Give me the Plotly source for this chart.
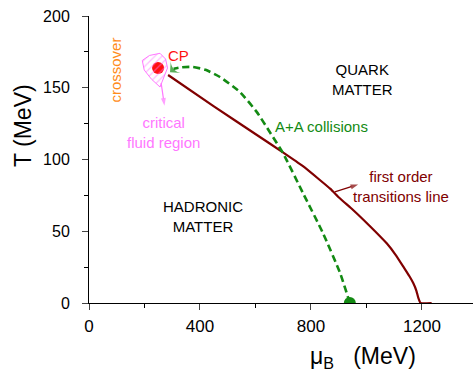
import plotly.graph_objects as go

# First-order transition line (mu_B in MeV, T in MeV)
first_order_mu = [285, 450, 616, 699, 770, 832, 870, 904, 945, 988, 1030, 1073, 1105, 1133, 1155, 1169, 1180, 1187, 1195, 1235]
first_order_T = [158.9, 137, 115.7, 105, 95.5, 85.7, 79.5, 73, 66, 58.2, 50.2, 41.6, 33.6, 25.3, 18.6, 13.7, 8.5, 3.5, 0, 0]

# A+A collisions trajectory (from freeze-out point up toward CP)
aa_mu = [940, 905, 843, 771, 699, 652, 605, 544, 472, 420, 375, 335, 305]
aa_T = [0, 20.9, 48.8, 76.7, 104.5, 119, 133, 147, 157.5, 162.5, 164.5, 164.3, 163.2]

# Critical point
cp_mu = [249]
cp_T = [163.8]

# Critical fluid region outline
region_mu = [192, 218, 256, 276, 283, 268, 256, 225, 199, 192]
region_T = [169, 172.5, 174, 170, 163.8, 156.8, 150.5, 156, 162.4, 169]

# Freeze-out point at T=0
fo_mu = [940]
fo_T = [0]

x_ticks = [0, 400, 800, 1200]
x_minor = [200, 600, 1000]
y_ticks = [0, 50, 100, 150, 200]
y_minor = [25, 75, 125, 175]

FONT = "Arial, Liberation Sans, sans-serif"
DARKRED = "#800000"
GREEN = "#138a13"
PINK = "#ff77ff"
ORANGE = "#ff8c1a"

W, H = 473, 369
ML, MR, MT, MB = 89, 0, 16, 66
pw, ph = W - ML - MR, H - MT - MB


def px_to_paper(px, py):
    return (px - ML) / pw, (H - MB - py) / ph


fig = go.Figure()

fig.add_trace(go.Scatter(x=cp_mu, y=cp_T, mode="markers",
                         marker=dict(color="#ff1010", size=12), showlegend=False))
fig.add_trace(go.Scatter(x=region_mu, y=region_T, mode="lines", fill="toself",
                         line=dict(color=PINK, width=1),
                         fillcolor="rgba(0,0,0,0)",
                         fillpattern=dict(shape="/", fgcolor=PINK, bgcolor="rgba(0,0,0,0)", size=5, solidity=0.25),
                         showlegend=False))
fig.add_trace(go.Scatter(x=first_order_mu, y=first_order_T, mode="lines",
                         line=dict(color=DARKRED, width=2.2, shape="spline", smoothing=0.5),
                         showlegend=False))
fig.add_trace(go.Scatter(x=aa_mu, y=aa_T, mode="lines",
                         line=dict(color=GREEN, width=2.6, dash="7px,4px", shape="spline", smoothing=0.5),
                         showlegend=False))
fig.add_trace(go.Scatter(x=fo_mu, y=fo_T, mode="markers",
                         marker=dict(color=GREEN, size=12), showlegend=False))

# arrowheads (drawn as oriented markers)
arrows = [
    # (x list, y list, color, line width, head size, symbol, show shaft)
    ([312, 292], [164.2, 160.8], GREEN, 0, 12, "arrow-wide", False),
    ([260, 272], [153.3, 137.5], PINK, 1.2, 8, "arrow", True),
    ([886, 970], [77.4, 82.6], DARKRED, 1.2, 8, "arrow", True),
]
for xs, ys, col, lw, hs, sym, shaft in arrows:
    fig.add_trace(go.Scatter(
        x=xs, y=ys, mode="lines+markers" if shaft else "markers",
        line=dict(color=col, width=lw),
        marker=dict(symbol=sym, size=[0, hs], color=col, angleref="previous",
                    line=dict(width=0)),
        showlegend=False))

ann = []
ann.append(dict(x=321, y=172.8, xref="x", yref="y", text="CP", showarrow=False,
                font=dict(family=FONT, size=15, color="#ff1010")))
ann.append(dict(x=94, y=162, xref="x", yref="y", text="crossover", showarrow=False, textangle=-90,
                font=dict(family=FONT, size=15, color=ORANGE)))
ann.append(dict(x=270, y=118.5, xref="x", yref="y", text="critical<br>fluid region", showarrow=False,
                font=dict(family=FONT, size=15, color=PINK)))
ann.append(dict(x=984, y=156, xref="x", yref="y", text="QUARK<br>MATTER", showarrow=False,
                font=dict(family=FONT, size=15, color="black")))
ann.append(dict(x=411, y=60, xref="x", yref="y", text="HADRONIC<br>MATTER", showarrow=False,
                font=dict(family=FONT, size=15, color="black")))
ann.append(dict(x=839, y=123, xref="x", yref="y", text="A+A collisions", showarrow=False,
                font=dict(family=FONT, size=15, color=GREEN)))
ann.append(dict(x=1124, y=81, xref="x", yref="y", text="first order<br>transitions line", showarrow=False,
                font=dict(family=FONT, size=15, color=DARKRED)))
# axis titles
tx, ty = px_to_paper(23, 126)
ann.append(dict(x=tx, y=ty, xref="paper", yref="paper", text="T (MeV)", showarrow=False, textangle=-90,
                font=dict(family=FONT, size=23, color="black"), xanchor="center", yanchor="middle"))
bx, by = px_to_paper(308, 357)
ann.append(dict(x=bx, y=by, xref="paper", yref="paper", text="μ<sub>B</sub>   (MeV)", showarrow=False,
                font=dict(family=FONT, size=23, color="black"), xanchor="left", yanchor="middle"))

fig.update_layout(
    width=W, height=H,
    margin=dict(l=ML, r=MR, t=MT, b=MB),
    paper_bgcolor="white", plot_bgcolor="white",
    annotations=ann,
    xaxis=dict(range=[0, 1384], tickvals=x_ticks, ticks="outside", ticklen=6, tickwidth=1,
               showline=True, linecolor="black", linewidth=1, showgrid=False, zeroline=False,
               tickfont=dict(family=FONT, size=17, color="black"), ticklabelstandoff=2,
               minor=dict(tickvals=x_minor, ticks="outside", ticklen=4, tickcolor="black")),
    yaxis=dict(range=[0, 200], tickvals=y_ticks, ticks="outside", ticklen=6, tickwidth=1,
               showline=True, linecolor="black", linewidth=1, showgrid=False, zeroline=False,
               tickfont=dict(family=FONT, size=16, color="black"), ticklabelstandoff=9,
               minor=dict(tickvals=y_minor, ticks="outside", ticklen=4, tickcolor="black")),
)

fig.write_html("out.html", config={"displayModeBar": False},
               post_script="document.body.style.margin='0';document.body.style.overflow='hidden';")
